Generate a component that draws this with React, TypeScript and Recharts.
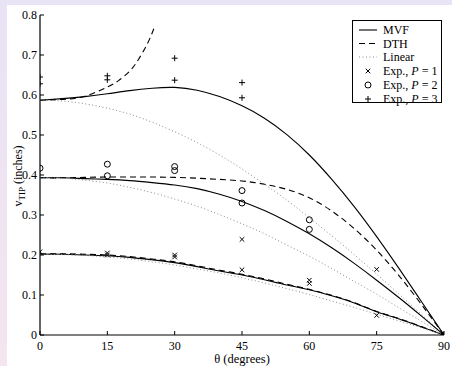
import React from 'react';
import {
  ComposedChart,
  Line,
  Scatter,
  XAxis,
  YAxis,
} from 'recharts';

// angles used for the model curves (degrees)
const THETA = [0, 5, 10, 15, 20, 25, 30, 35, 40, 45, 50, 55, 60, 65, 70, 75, 80, 85, 90];

// P = 3 (top group)
const MVF_P3 = [0.587, 0.591, 0.596, 0.603, 0.611, 0.617, 0.619, 0.612, 0.596, 0.573, 0.542, 0.501, 0.45, 0.389, 0.321, 0.246, 0.166, 0.083, 0];
const LIN_P3 = [0.587, 0.585, 0.578, 0.567, 0.552, 0.532, 0.508, 0.481, 0.45, 0.415, 0.377, 0.337, 0.293, 0.248, 0.201, 0.152, 0.102, 0.051, 0];
// DTH for P = 3 blows up before 30 deg
const DTH_P3_THETA = [0, 5, 10, 15, 17.5, 20, 22, 24, 25.5];
const DTH_P3 = [0.587, 0.589, 0.597, 0.62, 0.636, 0.66, 0.69, 0.73, 0.77];

// P = 2 (middle group)
const MVF_P2 = [0.393, 0.393, 0.391, 0.389, 0.386, 0.381, 0.375, 0.366, 0.352, 0.334, 0.311, 0.284, 0.253, 0.218, 0.179, 0.137, 0.093, 0.047, 0];
const DTH_P2 = [0.393, 0.393, 0.394, 0.395, 0.395, 0.395, 0.394, 0.392, 0.389, 0.385, 0.377, 0.364, 0.343, 0.31, 0.266, 0.212, 0.148, 0.076, 0];
const LIN_P2 = [0.393, 0.392, 0.387, 0.38, 0.369, 0.356, 0.34, 0.322, 0.301, 0.278, 0.253, 0.225, 0.197, 0.166, 0.134, 0.102, 0.068, 0.034, 0];

// P = 1 (bottom group)
const MVF_P1 = [0.202, 0.202, 0.2, 0.198, 0.194, 0.188, 0.181, 0.171, 0.16, 0.15, 0.138, 0.125, 0.113, 0.098, 0.08, 0.058, 0.04, 0.02, 0];
const DTH_P1 = [0.203, 0.203, 0.202, 0.2, 0.196, 0.19, 0.183, 0.173, 0.162, 0.152, 0.14, 0.127, 0.114, 0.099, 0.081, 0.059, 0.041, 0.021, 0];
const LIN_P1 = [0.202, 0.201, 0.199, 0.195, 0.19, 0.183, 0.175, 0.165, 0.155, 0.143, 0.13, 0.116, 0.101, 0.085, 0.069, 0.052, 0.035, 0.018, 0];

// experiments: [theta, v_tip]
const EXP_P1: [number, number][] = [
  [0, 0.208], [15, 0.205], [15, 0.2], [30, 0.2], [30, 0.195], [45, 0.239], [45, 0.163],
  [60, 0.137], [60, 0.129], [75, 0.164], [75, 0.049], [90, 0],
];
const EXP_P2: [number, number][] = [
  [0, 0.417], [15, 0.427], [15, 0.398], [30, 0.421], [30, 0.411], [45, 0.361], [45, 0.33],
  [60, 0.288], [60, 0.264], [90, 0],
];
const EXP_P3: [number, number][] = [
  [0, 0.645], [0, 0.628], [15, 0.648], [15, 0.638], [30, 0.692], [30, 0.637], [45, 0.631], [45, 0.593], [90, 0],
];

const X_TICKS = [0, 15, 30, 45, 60, 75, 90];
const Y_TICKS = [0, 0.1, 0.2, 0.3, 0.4, 0.5, 0.6, 0.7, 0.8];

const FONT = "'Liberation Serif', 'Times New Roman', serif";

const toPoints = (xs: number[], ys: number[]) => xs.map((x, i) => ({ x, y: ys[i] }));
const toExp = (pts: [number, number][]) => pts.map(([x, y]) => ({ x, y }));

const CrossMark = (props: any) => {
  const { cx, cy } = props;
  const r = 2.3;
  return (
    <path
      d={`M${cx - r},${cy - r}L${cx + r},${cy + r}M${cx - r},${cy + r}L${cx + r},${cy - r}`}
      stroke="#000"
      strokeWidth={1}
    />
  );
};

const CircleMark = (props: any) => {
  const { cx, cy } = props;
  return <circle cx={cx} cy={cy} r={3} fill="none" stroke="#000" strokeWidth={1} />;
};

const PlusMark = (props: any) => {
  const { cx, cy } = props;
  const r = 3;
  return (
    <path
      d={`M${cx - r},${cy}L${cx + r},${cy}M${cx},${cy - r}L${cx},${cy + r}`}
      stroke="#000"
      strokeWidth={1}
    />
  );
};

const solid = { stroke: '#000', strokeWidth: 1.1 };
const dashed = { stroke: '#000', strokeWidth: 1.1, strokeDasharray: '6 4' };
const dotted = { stroke: '#8a8a8a', strokeWidth: 1, strokeDasharray: '1 2.5' };

const lines = [
  { key: 'mvf3', data: toPoints(THETA, MVF_P3), style: solid },
  { key: 'dth3', data: toPoints(DTH_P3_THETA, DTH_P3), style: dashed },
  { key: 'lin3', data: toPoints(THETA, LIN_P3), style: dotted },
  { key: 'mvf2', data: toPoints(THETA, MVF_P2), style: solid },
  { key: 'dth2', data: toPoints(THETA, DTH_P2), style: dashed },
  { key: 'lin2', data: toPoints(THETA, LIN_P2), style: dotted },
  { key: 'mvf1', data: toPoints(THETA, MVF_P1), style: solid },
  { key: 'dth1', data: toPoints(THETA, DTH_P1), style: dashed },
  { key: 'lin1', data: toPoints(THETA, LIN_P1), style: dotted },
];

const tickStyle = { fontSize: 12, fontFamily: FONT, fill: '#000', style: { fontFamily: FONT } };
const textStyle = { fontFamily: FONT };

const Legend = () => {
  const x0 = 359;
  const x1 = 377;
  const tx = 383;
  const rows = [30, 43.5, 57, 71, 85, 99];
  const textProps = {
    x: tx,
    fontSize: 12,
    fill: '#000',
    style: textStyle,
    dominantBaseline: 'central' as const,
  };
  return (
    <g>
      <rect x={352.5} y={20.5} width={89} height={82} fill="#fff" stroke="#000" strokeWidth={1} />
      <line x1={x0} x2={x1} y1={rows[0]} y2={rows[0]} {...solid} />
      <text {...textProps} y={rows[0]}>MVF</text>
      <line x1={x0} x2={x1} y1={rows[1]} y2={rows[1]} {...dashed} />
      <text {...textProps} y={rows[1]}>DTH</text>
      <line x1={x0} x2={x1} y1={rows[2]} y2={rows[2]} {...dotted} />
      <text {...textProps} y={rows[2]}>Linear</text>
      <CrossMark cx={368} cy={rows[3]} />
      <text {...textProps} y={rows[3]}>
        Exp., <tspan fontStyle="italic">P</tspan> = 1
      </text>
      <CircleMark cx={368} cy={rows[4]} />
      <text {...textProps} y={rows[4]}>
        Exp., <tspan fontStyle="italic">P</tspan> = 2
      </text>
      <PlusMark cx={368} cy={rows[5]} />
      <text {...textProps} y={rows[5]}>
        Exp., <tspan fontStyle="italic">P</tspan> = 3
      </text>
    </g>
  );
};

export default function App() {
  return (
    <div
      style={{
        position: 'absolute',
        left: 0,
        top: 0,
        width: 452,
        height: 366,
        background: 'linear-gradient(to bottom, #e8e3f5, #f4e5ef)',
        overflow: 'hidden',
        fontFamily: FONT,
      }}
    >
      <div style={{ position: 'absolute', left: 7, top: 5, width: 445, height: 361, background: '#fff' }}>
        <ComposedChart
          width={445}
          height={361}
          margin={{ top: 10, right: 8, bottom: 0, left: 0 }}
          style={{ fontFamily: FONT }}
        >
          <XAxis
            xAxisId="b"
            dataKey="x"
            type="number"
            domain={[0, 90]}
            ticks={X_TICKS}
            allowDataOverflow
            orientation="bottom"
            height={31}
            tickSize={-4}
            tickMargin={10}
            tick={tickStyle}
            axisLine={{ stroke: '#000', strokeWidth: 1.2 }}
            tickLine={{ stroke: '#000' }}
          />
          <XAxis
            xAxisId="t"
            dataKey="x"
            type="number"
            domain={[0, 90]}
            ticks={X_TICKS}
            allowDataOverflow
            orientation="top"
            height={0}
            tickSize={-4}
            tick={false}
            axisLine={{ stroke: '#000', strokeWidth: 1.2 }}
            tickLine={{ stroke: '#000' }}
          />
          <YAxis
            yAxisId="l"
            dataKey="y"
            type="number"
            domain={[0, 0.8]}
            ticks={Y_TICKS}
            allowDataOverflow
            orientation="left"
            width={33}
            tickSize={-4}
            tickMargin={7}
            tick={tickStyle}
            tickFormatter={(v: number) => (v === 0 ? '0' : String(Math.round(v * 10) / 10))}
            axisLine={{ stroke: '#000', strokeWidth: 1.2 }}
            tickLine={{ stroke: '#000' }}
          />
          <YAxis
            yAxisId="r"
            dataKey="y"
            type="number"
            domain={[0, 0.8]}
            ticks={Y_TICKS}
            allowDataOverflow
            orientation="right"
            width={0}
            tickSize={-4}
            tick={false}
            axisLine={{ stroke: '#000', strokeWidth: 1.2 }}
            tickLine={{ stroke: '#000' }}
          />
          {lines.map((l) => (
            <Line
              key={l.key}
              xAxisId="b"
              yAxisId="l"
              data={l.data}
              dataKey="y"
              type="natural"
              dot={false}
              activeDot={false}
              isAnimationActive={false}
              {...l.style}
            />
          ))}
          <Scatter xAxisId="b" yAxisId="l" data={toExp(EXP_P1)} shape={CrossMark} isAnimationActive={false} />
          <Scatter xAxisId="b" yAxisId="l" data={toExp(EXP_P2)} shape={CircleMark} isAnimationActive={false} />
          <Scatter xAxisId="b" yAxisId="l" data={toExp(EXP_P3)} shape={PlusMark} isAnimationActive={false} />
        </ComposedChart>
      </div>
      <svg
        width={452}
        height={366}
        style={{ position: 'absolute', left: 0, top: 0, pointerEvents: 'none' }}
      >
        <text
          transform="translate(22,176) rotate(-90)"
          textAnchor="middle"
          fontSize={12}
          fill="#000"
          style={textStyle}
        >
          <tspan>v</tspan>
          <tspan fontSize={9} dy={3}>TIP</tspan>
          <tspan dy={-3}> (inches)</tspan>
        </text>
        <text x={242} y={363} textAnchor="middle" fontSize={12.5} fill="#000" style={textStyle}>
          θ (degrees)
        </text>
        <Legend />
      </svg>
    </div>
  );
}
